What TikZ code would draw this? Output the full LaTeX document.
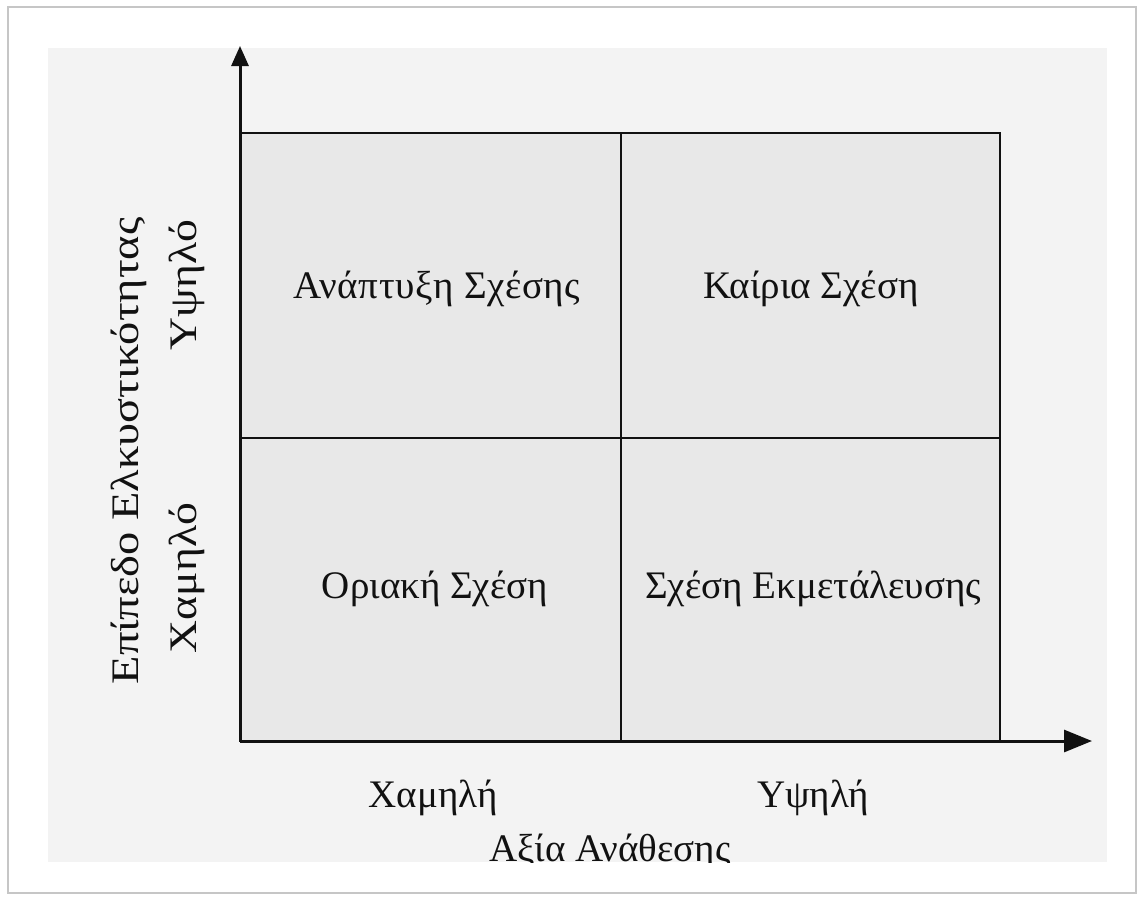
\documentclass[tikz,border=0pt]{standalone}
\usepackage{fontspec}
\setmainfont{Liberation Serif}
\newfontfamily\spacedfont[LetterSpace=1.5]{Liberation Serif}
\usetikzlibrary{arrows.meta}
\definecolor{paper}{HTML}{F3F3F3}
\definecolor{boxfill}{HTML}{E8E8E8}
\definecolor{ink}{HTML}{111111}
\tikzset{
  lbl/.style={font=\fontsize{39}{44}\selectfont, text=ink, inner sep=0pt, anchor=base},
  axisline/.style={line width=3pt, draw=ink},
  gridline/.style={line width=2.8pt, draw=ink}
}
\begin{document}
\begin{tikzpicture}[x=1pt,y=-1pt]
\useasboundingbox (0,0) rectangle (1142,897);
\fill[white] (0,0) rectangle (1142,897);
\draw[gray!45, line width=1.5pt] (8,7) rectangle (1136,893);
\fill[paper] (48,48) rectangle (1107,862);
\fill[boxfill] (240,133) rectangle (1000,741);
% grid
\coordinate (O) at (240,741);
\coordinate (ytip) at (240,46);
\coordinate (xtip) at (1092,741);
\coordinate (TL) at (240,133);
\coordinate (BR) at (1000,741);
\coordinate (mt) at (621,133);
\coordinate (mb) at (621,741);
\coordinate (ml) at (240,438);
\coordinate (mr) at (1000,438);
\draw[gridline] (TL) rectangle (BR);
\draw[gridline] (mt) -- (mb);
\draw[gridline] (ml) -- (mr);
\draw[axisline, -{Triangle[length=20pt,width=17pt]}] (O) -- (ytip);
\draw[axisline, -{Triangle[length=28pt,width=22pt]}] (O) -- (xtip);
% quadrant labels
\node[lbl, font=\fontsize{39}{44}\spacedfont] (q1) at (437,298) {Ανάπτυξη Σχέσης};
\node[lbl] (q2) at (811,298) {Καίρια Σχέση};
\node[lbl] (q3) at (435,598) {Οριακή Σχέση};
\node[lbl] (q4) at (813,598) {Σχέση Εκμετάλευσης};
% x axis labels
\node[lbl] (xl) at (433,807) {Χαμηλή};
\node[lbl] (xh) at (813,807) {Υψηλή};
\begin{scope}
\clip (48,48) rectangle (1107,862);
\node[lbl] (xt) at (610,861) {Αξία Ανάθεσης};
\end{scope}
% y axis labels
\node[lbl, rotate=90] (yt) at (138,451) {\scalebox{1.19}[1]{Επίπεδο Ελκυστικότητας}};
\node[lbl, rotate=90] (yh) at (196,285) {\scalebox{1.17}[1]{Υψηλό}};
\node[lbl, rotate=90] (yl) at (196,578) {\scalebox{1.17}[1]{Χαμηλό}};
\end{tikzpicture}
\end{document}
